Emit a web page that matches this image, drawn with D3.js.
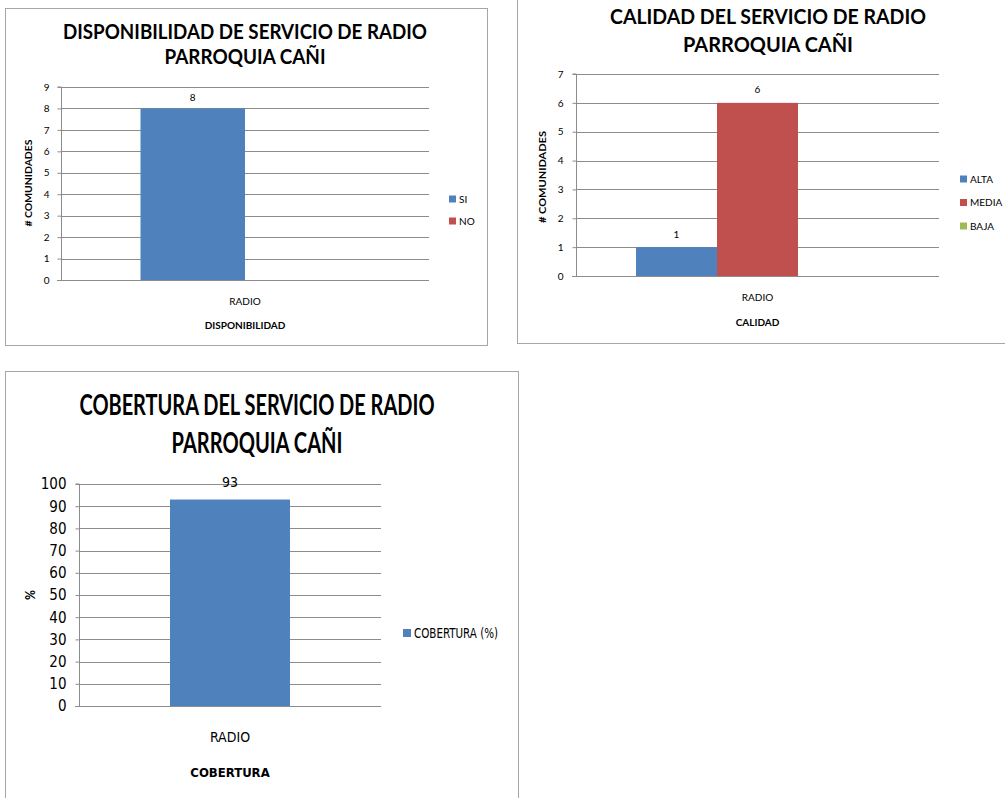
<!DOCTYPE html>
<html><head><meta charset="utf-8">
<script src="https://cdn.jsdelivr.net/npm/d3@7"></script>
<style>body{margin:0;background:#fff} svg{display:block}</style>
</head><body><svg id="c" width="1005" height="798"></svg>
<script>
// ---------- DATA ----------
const categories = ["RADIO"];

const dispTitle = ["DISPONIBILIDAD DE SERVICIO DE RADIO", "PARROQUIA CAÑI"];
const dispSeries = ["SI", "NO"];
const dispValues = [8, null];
const dispTicks = [0, 1, 2, 3, 4, 5, 6, 7, 8, 9];
const dispYTitle = "# COMUNIDADES";
const dispXTitle = "DISPONIBILIDAD";

const calTitle = ["CALIDAD DEL SERVICIO DE RADIO", "PARROQUIA CAÑI"];
const calSeries = ["ALTA", "MEDIA", "BAJA"];
const calValues = [1, 6, null];
const calTicks = [0, 1, 2, 3, 4, 5, 6, 7];
const calYTitle = "# COMUNIDADES";
const calXTitle = "CALIDAD";

const cobTitle = ["COBERTURA DEL SERVICIO DE RADIO", "PARROQUIA CAÑI"];
const cobSeries = ["COBERTURA (%)"];
const cobValues = [93];
const cobTicks = [0, 10, 20, 30, 40, 50, 60, 70, 80, 90, 100];
const cobYTitle = "%";
const cobXTitle = "COBERTURA";

const seriesColors = ["#4F81BD", "#C0504D", "#9BBB59"];

// ---------- DRAW ----------
const svg = d3.select("#c");
const FONT = "Lato, 'Open Sans', sans-serif";
const NARROW = "'Liberation Sans Narrow', 'DejaVu Sans Condensed', Lato, sans-serif";

function drawChart(o) {
  const g = svg.append("g");
  g.append("rect").attr("x", o.frame.x + 0.5).attr("y", o.frame.y + 0.5)
    .attr("width", o.frame.w).attr("height", o.frame.h)
    .attr("fill", "#fff").attr("stroke", "#a6a6a6").attr("stroke-width", 1);

  // titles
  o.title.forEach((t, i) => {
    g.append("text").attr("x", o.t.cx).attr("y", o.t.ys[i]).attr("dy", "0.35em")
      .attr("text-anchor", "middle").attr("font-family", o.titleFont || FONT)
      .attr("font-weight", "bold").attr("font-size", o.t.size).attr("fill", "#000")
      .attr("textLength", o.t.ws[i]).attr("lengthAdjust", "spacingAndGlyphs")
      .text(t);
  });

  const p = o.plot;
  const y = d3.scaleLinear().domain([0, d3.max(o.ticks)]).range([p.b, p.t]);
  const W = p.r - p.l;
  const pad = (W / o.groupW - 1) / 2;
  const x0 = d3.scaleBand().domain(categories).range([p.l, p.r]).paddingInner(0).paddingOuter(pad);
  const x1 = d3.scaleBand().domain(o.series).range([0, x0.bandwidth()]).padding(0);

  // gridlines
  g.append("g").selectAll("line").data(o.ticks).join("line")
    .attr("x1", p.l).attr("x2", p.r)
    .attr("y1", d => Math.round(y(d)) + 0.5).attr("y2", d => Math.round(y(d)) + 0.5)
    .attr("stroke", "#8c8c8c").attr("stroke-width", 1);

  // bars
  const rows = o.series.map((s, i) => ({ s, v: o.values[i], c: seriesColors[i] }));
  categories.forEach(cat => {
    const bars = rows.filter(r => r.v != null);
    g.append("g").selectAll("rect").data(bars).join("rect")
      .attr("x", d => x0(cat) + x1(d.s)).attr("width", x1.bandwidth())
      .attr("y", d => y(d.v)).attr("height", d => y(0) - y(d.v))
      .attr("fill", d => d.c);
    g.append("g").selectAll("text").data(bars).join("text")
      .attr("x", d => x0(cat) + x1(d.s) + x1.bandwidth() / 2)
      .attr("y", d => y(d.v) - o.vlOff).attr("dy", "0.35em")
      .attr("text-anchor", "middle").attr("font-family", o.tickFont || FONT)
      .attr("font-size", o.vlSize).attr("fill", "#000").text(d => d.v);
  });

  // y axis
  const ax = g.append("g").attr("transform", `translate(${p.l + 0.5},0)`)
    .call(d3.axisLeft(y).tickValues(o.ticks).tickSize(4).tickPadding(o.tickPad).tickFormat(d3.format("d")));
  ax.selectAll("path").attr("stroke", "#8c8c8c").attr("d", `M-4,${p.t}H0V${p.b}`);
  ax.selectAll("line").attr("stroke", "#8c8c8c");
  ax.selectAll("text").attr("font-family", o.tickFont || FONT).attr("font-size", o.tickSize).attr("fill", "#000");
  // baseline
  g.append("line").attr("x1", p.l - 4).attr("x2", p.r)
    .attr("y1", Math.round(y(0)) + 0.5).attr("y2", Math.round(y(0)) + 0.5)
    .attr("stroke", "#8c8c8c");

  // category label
  categories.forEach(cat => {
    g.append("text").attr("x", x0(cat) + x0.bandwidth() / 2).attr("y", o.catY).attr("dy", "0.35em")
      .attr("text-anchor", "middle").attr("font-family", o.tickFont || FONT)
      .attr("font-size", o.catSize).attr("fill", "#000").text(cat);
  });
  // x axis title
  g.append("text").attr("x", (p.l + p.r) / 2).attr("y", o.xtY).attr("dy", "0.35em")
    .attr("text-anchor", "middle").attr("font-family", o.tickFont || FONT).attr("font-weight", "bold")
    .attr("font-size", o.xtSize).attr("fill", "#000").text(o.xTitle);
  // y axis title
  g.append("text").attr("transform", `translate(${o.yt.x},${o.yt.y}) rotate(-90)`).attr("dy", "0.35em")
    .attr("text-anchor", "middle").attr("font-family", FONT).attr("font-weight", "bold")
    .attr("font-size", o.yt.size).attr("fill", "#000")
    .attr("textLength", o.yt.w).attr("lengthAdjust", "spacingAndGlyphs").text(o.yTitle);

  // legend
  const L = o.legend;
  o.series.forEach((s, i) => {
    const cy = L.y0 + i * L.dy;
    g.append("rect").attr("x", L.x).attr("y", cy - L.sq / 2).attr("width", L.sq).attr("height", L.sq)
      .attr("fill", seriesColors[i]);
    const t = g.append("text").attr("x", L.x + L.sq + 3).attr("y", cy).attr("dy", "0.35em")
      .attr("font-family", o.tickFont || FONT).attr("font-size", L.size).attr("fill", "#000").text(s);
    if (L.w) t.attr("textLength", L.w).attr("lengthAdjust", "spacingAndGlyphs");
  });
}

drawChart({
  frame: { x: 5, y: 8, w: 482, h: 337 },
  title: dispTitle, t: { cx: 245, ys: [32, 57], size: 20, ws: [364, 161] },
  plot: { l: 61, r: 429, t: 87, b: 280 }, ticks: dispTicks, groupW: 209,
  series: dispSeries, values: dispValues,
  vlOff: 11, vlSize: 10, tickSize: 10, tickPad: 8,
  catY: 301, catSize: 10, xTitle: dispXTitle, xtY: 325, xtSize: 10,
  yTitle: dispYTitle, yt: { x: 28, y: 183, size: 10, w: 87 },
  legend: { x: 449, y0: 199, dy: 22, sq: 7, size: 10 }
});

drawChart({
  frame: { x: 517, y: -5, w: 500, h: 348 },
  title: calTitle, t: { cx: 768, ys: [17, 45], size: 21, ws: [316, 170] },
  plot: { l: 576, r: 939, t: 74, b: 276 }, ticks: calTicks, groupW: 243,
  series: calSeries, values: calValues,
  vlOff: 13, vlSize: 10, tickSize: 10, tickPad: 9,
  catY: 297, catSize: 10, xTitle: calXTitle, xtY: 322, xtSize: 10,
  yTitle: calYTitle, yt: { x: 542, y: 177, size: 10, w: 92 },
  legend: { x: 960, y0: 179, dy: 23.5, sq: 7, size: 10 }
});

drawChart({
  frame: { x: 5, y: 371, w: 513, h: 450 },
  title: cobTitle, t: { cx: 257, ys: [405, 443], size: 28, ws: [355, 171] },
  plot: { l: 79, r: 381, t: 484, b: 706 }, ticks: cobTicks, groupW: 120,
  series: cobSeries, values: cobValues, tickFont: NARROW, titleFont: FONT,
  vlOff: 17, vlSize: 14, tickSize: 15, tickPad: 9,
  catY: 737, catSize: 14, xTitle: cobXTitle, xtY: 772, xtSize: 13,
  yTitle: cobYTitle, yt: { x: 30, y: 595, size: 13, w: 10 },
  legend: { x: 403, y0: 633, dy: 22, sq: 8, size: 14, w: 84 }
});
</script></body></html>
